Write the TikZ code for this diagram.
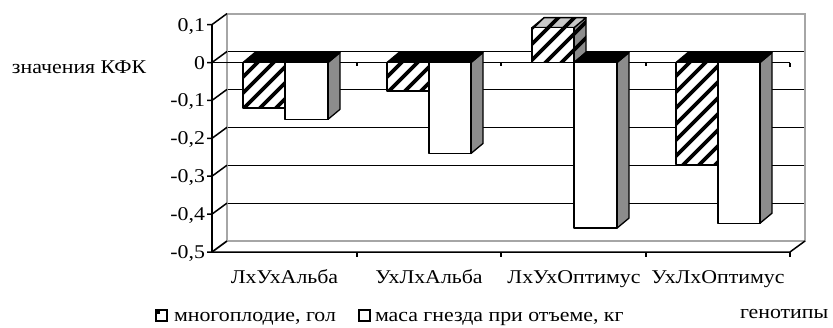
\documentclass[tikz,border=0pt]{standalone}
\usepackage{fontspec}
\setmainfont{Liberation Serif}[FakeStretch=1.12]
\definecolor{sidegrey}{HTML}{8C8C8C}
\definecolor{topgrey}{HTML}{C8C8C8}
\definecolor{wallgrey}{HTML}{A6A6A6}
\newcommand\hatchfill[1]{\begin{scope}\clip #1;\foreach \a in {-340,-324,...,840}{\draw[hatchline] (\a,340) -- ++(340,-340);}\end{scope}}
% #1 x0, #2 x1, #3 value, #4 hatched (1/0)
\newcommand\drawbar[4]{%
  \pgfmathsetmacro\yz{62.5}%
  \pgfmathsetmacro\yv{62.5-379*(#3)}%
  \pgfmathsetmacro\yt{min(\yz,\yv)}%
  \pgfmathsetmacro\yl{max(\yz,\yv)}%
  \ifdim #3pt<0pt \def\topcol{black}\else\def\topcol{topgrey}\fi
  \fill[sidegrey] (#2,\yt) -- ++(12,-10) -- (#2+12,\yl-10) -- (#2,\yl) -- cycle;
  \ifnum#4=1 \hatchfill{(#2,\yt) -- ++(12,-10) -- (#2+12,\yl-10) -- (#2,\yl) -- cycle}\fi
  \draw[barline] (#2,\yt) -- ++(12,-10) -- (#2+12,\yl-10) -- (#2,\yl) -- cycle;
  \fill[\topcol] (#1,\yt) -- ++(12,-10) -- (#2+12,\yt-10) -- (#2,\yt) -- cycle;
  \ifnum#4=1 \ifdim #3pt>0pt \hatchfill{(#1,\yt) -- ++(12,-10) -- (#2+12,\yt-10) -- (#2,\yt) -- cycle}\fi\fi
  \draw[barline] (#1,\yt) -- ++(12,-10) -- (#2+12,\yt-10) -- (#2,\yt) -- cycle;
  \fill[white] (#1,\yt) rectangle (#2,\yl);
  \ifnum#4=1 \hatchfill{(#1,\yt) rectangle (#2,\yl)}\fi
  \draw[barline] (#1,\yt) rectangle (#2,\yl);
}
\begin{document}
\begin{tikzpicture}[x=1pt,y=-1pt,
  font=\fontsize{19.5}{22}\selectfont,
  lbl/.style={inner sep=0pt,outer sep=0pt},
  axisline/.style={line width=1.5pt,black},
  gridline/.style={line width=1.2pt,black},
  wallline/.style={line width=1.8pt,draw=wallgrey},
  barline/.style={line width=1.3pt,line join=round,black},
  hatchline/.style={line width=3.6pt,black},
  legkey/.style={draw,line width=2pt,minimum width=11pt,minimum height=11pt,inner sep=0pt,fill=white}]
\useasboundingbox (0,0) rectangle (833,327);
\clip (0,0) rectangle (833,327);
% back wall gridlines
\foreach \v in {0,-0.1,-0.2,-0.3,-0.4}{\draw[gridline] (227,{51.5-379*\v}) -- (805,{51.5-379*\v});}
% back wall outline and floor
\draw[wallline] (227,241) -- (227,13.6) -- (805,13.6) -- (805,241) -- cycle;
\draw[wallline] (212,252) -- (227,241);
% left axis with ticks
\draw[axisline] (212,{62.5-379*0.1}) -- (212,252);
\foreach \v in {0.1,0,-0.1,-0.2,-0.3,-0.4,-0.5}{
  \draw[axisline] (207,{62.5-379*\v}) -- (212,{62.5-379*\v}) -- ++(15,-11);}
% front zero line with ticks
\draw[gridline] (212,62.5) -- (790,62.5);
\foreach \x in {357,501,646}{\draw[gridline] (\x,62.5) -- (\x,66);}
\draw[gridline] (790,62.5) -- (790,67);
% bars
\drawbar{243}{285}{-0.12}{1}
\drawbar{285}{328}{-0.15}{0}
\drawbar{387}{429}{-0.075}{1}
\drawbar{429}{471}{-0.24}{0}
\drawbar{532}{574}{0.092}{1}
\drawbar{574}{617}{-0.437}{0}
\drawbar{676}{718}{-0.27}{1}
\drawbar{718}{760}{-0.424}{0}
% bottom axis
\draw[axisline] (212,252) -- (790,252) -- (805,241);
\foreach \x in {357,501,646,790}{\draw[axisline] (\x,252) -- (\x,257);}
% tick labels
\node[lbl,anchor=base east] (t1) at (205,{62.5-379*0.1+6.5}) {0,1};
\node[lbl,anchor=base east] (t0) at (205,{62.5+6.5}) {0};
\node[lbl,anchor=base east] (tm1) at (205,{62.5+379*0.1+6.5}) {-0,1};
\node[lbl,anchor=base east] (tm2) at (205,{62.5+379*0.2+6.5}) {-0,2};
\node[lbl,anchor=base east] (tm3) at (205,{62.5+379*0.3+6.5}) {-0,3};
\node[lbl,anchor=base east] (tm4) at (205,{62.5+379*0.4+6.5}) {-0,4};
\node[lbl,anchor=base east] (tm5) at (205,{62.5+379*0.5+6.5}) {-0,5};
% axis titles
\node[lbl,anchor=base west] (ytitle) at (12,73) {значения КФК};
\node[lbl,anchor=base west] (xtitle) at (740,318) {генотипы};
% category labels
\node[lbl,anchor=base] (c1) at (284.5,283) {ЛхУхАльба};
\node[lbl,anchor=base] (c2) at (429,283) {УхЛхАльба};
\node[lbl,anchor=base] (c3) at (574,283) {ЛхУхОптимус};
\node[lbl,anchor=base] (c4) at (718,283) {УхЛхОптимус};
% legend
\node[legkey] (k1) at (161.5,315.5) {};
\fill (k1.north west) ++(1,1) rectangle ++(4,4);
\node[lbl,anchor=base west] (l1) at (174,321.5) {многоплодие, гол};
\node[legkey] (k2) at (364,315.5) {};
\node[lbl,anchor=base west] (l2) at (375,321.5) {маса гнезда при отъеме, кг};
\end{tikzpicture}
\end{document}
